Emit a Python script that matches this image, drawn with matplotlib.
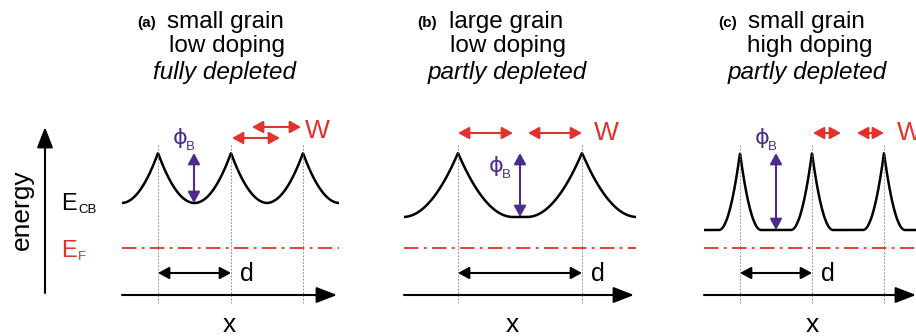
import matplotlib
matplotlib.use('Agg')
import matplotlib.pyplot as plt
import numpy as np

plt.rcParams['font.family'] = ['Liberation Sans', 'DejaVu Sans']

RED = '#e3312b'
PURPLE = '#4b2c8c'
GRAY = '#7a7a7a'

# ---- text content ----
panel_tags = ['(a)', '(b)', '(c)']
title_line1 = ['small grain', 'large grain', 'small grain']
title_line2 = ['low doping', 'low doping', 'high doping']
title_line3 = ['fully depleted', 'partly depleted', 'partly depleted']

# ---- band diagram parameters (figure pixel coordinates, y downwards) ----
x_start = [122, 404, 704]
x_end = [339, 636, 918]
peaks = [[158, 231, 303], [458, 582], [740, 812, 884]]
depl_width = [36.5, 55, 21]
E_peak = [153, 153, 153]
E_min = [203, 217, 230]
E_F = 248
x_axis_y = 295
d_arrow_y = 273
phi_x = [194, 520, 776]
phi_label = [(173, 138), (489, 166), (755, 138)]
W_arrows = [[(232, 280, 138), (252, 301, 127)],
            [(458, 513, 133), (528, 582, 133)],
            [(813, 841, 133), (857, 884, 133)]]
W_label = [(305, 131), (594, 133), (897, 133)]
x_label_pos = [229, 512, 812]

title_x = [(137, 167, 169, 153), (417, 449, 450, 428), (718, 748, 747, 728)]
title_base = [28, 52, 79]

fig = plt.figure(figsize=(9.16, 3.36), dpi=100)
ax = fig.add_axes([0, 0, 1, 1])
ax.set_xlim(0, 916)
ax.set_ylim(336, 0)
ax.axis('off')

def arrow(x0, y0, x1, y1, color, style, ms, lw):
    ax.annotate('', xy=(x1, y1), xytext=(x0, y0),
                arrowprops=dict(arrowstyle=style, color=color, lw=lw,
                                shrinkA=0, shrinkB=0, mutation_scale=ms))

DOUBLE = '<|-|>,head_length=0.55,head_width=0.3'

# energy axis
arrow(45, 293, 45, 127, 'black', '-|>,head_length=0.9,head_width=0.35', 14, 1.5)
ax.text(22, 210, 'energy', rotation=90, ha='center', va='center', fontsize=19)
ax.text(61, 210, 'E', ha='left', va='baseline', fontsize=17)
ax.text(78, 213, 'CB', ha='left', va='baseline', fontsize=9.5)
ax.text(61, 257, 'E', ha='left', va='baseline', fontsize=17, color=RED)
ax.text(78, 260, 'F', ha='left', va='baseline', fontsize=9.5, color=RED)

for i in range(3):
    xs = np.linspace(x_start[i], x_end[i], 800)
    pk = np.array(peaks[i])
    dist = np.min(np.abs(xs[:, None] - pk[None, :]), axis=1)
    frac = np.clip(1 - dist / depl_width[i], 0, 1)
    ys = E_min[i] - (E_min[i] - E_peak[i]) * frac ** 2
    ax.plot(xs, ys, color='black', lw=1.8, solid_capstyle='butt', clip_on=False)

    # Fermi level
    ax.plot([x_start[i], x_end[i]], [E_F, E_F], color=RED, lw=1.3,
            linestyle=(0, (8, 3, 1.5, 3)))

    # grain boundary markers
    for p in peaks[i]:
        ax.plot([p, p], [145, 303], color=GRAY, lw=0.6, linestyle=(0, (2, 2)))

    # x axis
    arrow(x_start[i], x_axis_y, x_end[i] - 2, x_axis_y, 'black',
          '-|>,head_length=0.9,head_width=0.35', 14, 1.5)
    ax.text(x_label_pos[i], 332, 'x', ha='center', va='baseline', fontsize=19)

    # grain size d
    arrow(peaks[i][0], d_arrow_y, peaks[i][1], d_arrow_y, 'black', DOUBLE, 12, 1.5)
    ax.text(peaks[i][1] + 9, d_arrow_y + 8, 'd', ha='left', va='baseline', fontsize=18)

    # barrier height
    arrow(phi_x[i], E_min[i], phi_x[i], E_peak[i], PURPLE, DOUBLE, 12, 1.5)
    lx, ly = phi_label[i]
    ax.text(lx, ly, 'ϕ', ha='left', va='center', fontsize=16, color=PURPLE,
            family=['DejaVu Sans'])
    ax.text(lx + 13, ly + 9, 'B', ha='left', va='center', fontsize=9.5, color=PURPLE)

    # depletion width
    for (a, b, yy) in W_arrows[i]:
        arrow(a, yy, b, yy, RED, DOUBLE, 12, 1.5)
    wx, wy = W_label[i]
    ax.text(wx, wy, 'W', ha='left', va='center', fontsize=19, color=RED)

    # titles
    tx = title_x[i]
    ax.text(tx[0], title_base[0] - 1, panel_tags[i], ha='left', va='baseline',
            fontsize=11, fontweight='bold')
    ax.text(tx[1], title_base[0], title_line1[i], ha='left', va='baseline', fontsize=17.5)
    ax.text(tx[2], title_base[1], title_line2[i], ha='left', va='baseline', fontsize=17.5)
    ax.text(tx[3], title_base[2], title_line3[i], ha='left', va='baseline', fontsize=17.5,
            style='italic')

fig.savefig('out.png', dpi=100)
